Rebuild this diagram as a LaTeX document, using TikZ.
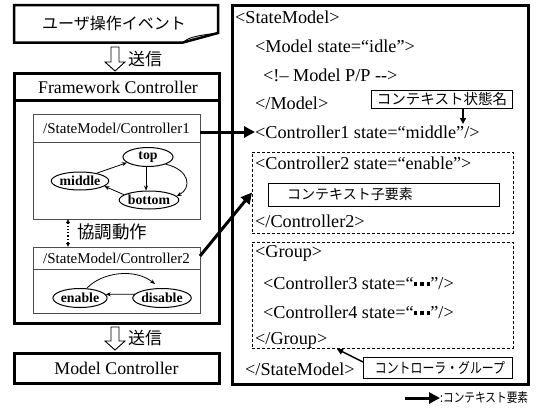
\documentclass[tikz,border=0pt]{standalone}
\usepackage{fontspec}
\setmainfont{Liberation Serif}
\newfontfamily\jp{Noto Sans CJK JP}
\newfontfamily\jpc{Noto Sans CJK JP}[FakeStretch=0.82]
\usetikzlibrary{arrows.meta,shapes.geometric,calc}
\newcommand\sqdots{\rule[3.5pt]{3.6pt}{3.6pt}\hspace{3pt}\rule[3.5pt]{3.6pt}{3.6pt}\hspace{3pt}\rule[3.5pt]{3.6pt}{3.6pt}}
\tikzset{
  thickbox/.style={draw, line width=3pt, inner sep=0pt, outer sep=0pt, anchor=north west},
  thinbox/.style={draw=black!70, line width=0.9pt, inner sep=0pt, outer sep=0pt, anchor=north west},
  dashbox/.style={draw, line width=0.7pt, dash pattern=on 3pt off 2pt, inner sep=0pt, outer sep=0pt, anchor=north west},
  lblbox/.style={draw, line width=0.9pt, inner sep=0pt, outer sep=0pt, anchor=north west},
  stnode/.style={ellipse, draw, line width=1pt, inner sep=0pt, font=\bfseries\fontsize{13.8}{13.8}\selectfont},
  xml/.style={anchor=west, inner sep=0pt, font=\fontsize{18.2}{18.2}\selectfont},
  serif17/.style={inner sep=0pt, font=\fontsize{17.8}{17.8}\selectfont},
  serif15/.style={inner sep=0pt, font=\fontsize{15}{15}\selectfont},
  jptext/.style={inner sep=0pt, font=\jp\fontsize{#1}{#1}\selectfont},
  jpctext/.style={inner sep=0pt, font=\jpc\fontsize{#1}{#1}\selectfont},
  ctxarrow/.style={line width=3pt, -{Triangle[length=11pt,width=11pt]}},
  sarrow/.style={line width=0.8pt, -{Stealth[length=5pt,width=4pt]}},
  lblarrow/.style={line width=1.5pt, -{Triangle[length=6pt,width=6pt]}},
  sendarrow/.style={draw, line width=0.9pt, fill=white}
}
\begin{document}
\begin{tikzpicture}[x=1pt,y=-1pt]
\useasboundingbox (0,0) rectangle (536,410);

% --- user event (folded-corner note)
\draw[line width=2.5pt, line join=miter] (14,5) -- (218,5) -- (218,33) -- (183,42.5) -- (14,42.5) -- cycle;
\draw[line width=0.9pt] (183,42.5) .. controls (188,38) and (193,36) .. (218,33);
\node[jptext=16] (ev) at (114,23) {ユーザ操作イベント};

% --- send arrow 1
\draw[sendarrow] (111,47) -- (119,47) -- (119,62) -- (125,62) -- (115,71) -- (105,62) -- (111,62) -- cycle;
\node[jptext=17, anchor=west] (send1) at (128,59) {送信};

% --- Framework Controller
\node[thickbox, minimum width=205pt, minimum height=250pt] (fcb) at (14,73) {};
\node[thickbox, minimum width=205pt, minimum height=27pt] (fch) at (14,73) {};
\node[serif17] (fct) at (118,87) {Framework Controller};

% --- Controller1
\node[thinbox, minimum width=167pt, minimum height=105pt] (c1b) at (33,114) {};
\node[thinbox, minimum width=167pt, minimum height=28pt] (c1h) at (33,114) {};
\node[serif15] (c1t) at (116.5,128) {/StateModel/Controller1};

\node[stnode, minimum width=50pt, minimum height=19pt] (top) at (148,157) {top};
\node[stnode, minimum width=50pt, minimum height=18pt] (mid) at (80,181) {middle};
\node[stnode, minimum width=53pt, minimum height=18pt] (bot) at (149,200) {bottom};
\draw[sarrow] (mid.25) -- (top.195);
\draw[sarrow] (top.south -| 146,0) -- (bot.north -| 146,0);
\draw[sarrow] (bot.168) -- (mid.-12);
\draw[sarrow] (top.-22) .. controls (190,170) and (192,188) .. (bot.8);

% --- cooperative operation
\coordinate (cx) at (68,0);
\draw[line width=1.2pt, dotted, {Latex[length=4pt,width=4.5pt]}-{Latex[length=4pt,width=4.5pt]}] (c1b.south -| cx) -- (cx |- 0,247);
\node[jptext=17.5, anchor=west] (coop) at (77,232) {協調動作};

% --- Controller2
\node[thinbox, minimum width=167pt, minimum height=66pt] (c2b) at (33,247) {};
\node[thinbox, minimum width=167pt, minimum height=22pt] (c2h) at (33,247) {};
\node[serif15] (c2t) at (116.5,258) {/StateModel/Controller2};

\node[stnode, minimum width=50pt, minimum height=19pt] (ena) at (80,298) {enable};
\node[stnode, minimum width=51pt, minimum height=19pt] (dis) at (162,298) {disable};
\coordinate (edend) at (155,284);
\draw[sarrow] (ena.55) .. controls (102,272) and (135,268) .. (edend);
\draw[sarrow] (dis.172) -- (ena.8);

% --- send arrow 2
\draw[sendarrow] (111,327) -- (119,327) -- (119,341) -- (125,341) -- (115,350) -- (105,341) -- (111,341) -- cycle;
\node[jptext=17, anchor=west] (send2) at (128,338) {送信};

% --- Model Controller
\node[thickbox, minimum width=205pt, minimum height=30pt] (mc) at (14,353) {};
\node[serif17] (mct) at (116.5,368) {Model Controller};

% --- StateModel document
\node[thickbox, minimum width=296pt, minimum height=379pt] (sm) at (232,5) {};
\node[dashbox, minimum width=261pt, minimum height=81pt] (d1) at (252,152) {};
\node[dashbox, minimum width=261pt, minimum height=106pt] (d2) at (252,242) {};

\node[xml] (x1) at (235,17) {<StateModel>};
\node[xml] (x2) at (255,46) {<Model state=“idle”>};
\node[xml] (x3) at (263,75) {<!-- Model P/P -{}->};
\node[xml] (x4) at (255,103) {</Model>};
\node[xml] (x5) at (255,132) {<Controller1 state=“middle”/>};
\node[xml] (x6) at (255,163) {<Controller2 state=“enable”>};
\node[xml] (x7) at (255,221) {</Controller2>};
\node[xml] (x8) at (255,253) {<Group>};
\node[xml] (x9) at (263,283) {<Controller3 state=“\sqdots”/>};
\node[xml] (x10) at (263,312) {<Controller4 state=“\sqdots”/>};
\node[xml] (x11) at (255,340) {</Group>};
\node[xml] (x12) at (245,369) {</StateModel>};

% --- labels
\node[lblbox, minimum width=141pt, minimum height=18pt] (l1) at (371,90) {};
\node[jptext=14.5] (l1t) at (442,99) {コンテキスト状態名};
\coordinate (a1end) at (463,124);
\draw[lblarrow] (l1.south -| a1end) -- (a1end);

\node[lblbox, minimum width=231pt, minimum height=23pt] (l2) at (268,183) {};
\node[jptext=14, anchor=west] (l2t) at (287,194.5) {コンテキスト子要素};

\node[lblbox, minimum width=149pt, minimum height=21pt] (l3) at (363,357) {};
\node[jpctext=14.5] (l3t) at (440,367.5) {コントローラ・グループ};
\coordinate (a2end) at (337,349);
\draw[lblarrow] (l3.west |- 0,362) -- (a2end);

% --- context element arrows
\draw[ctxarrow] (c1h.east |- x5) -- (x5.west);
\draw[ctxarrow] (c2h.east |- 0,256) -- (d1.west);

% --- legend
\coordinate (lg) at (405,398);
\node[jpctext=13, anchor=west] (lgt) at (440,398) {:コンテキスト要素};
\draw[ctxarrow] (lg) -- (lgt.west);
\end{tikzpicture}
\end{document}
